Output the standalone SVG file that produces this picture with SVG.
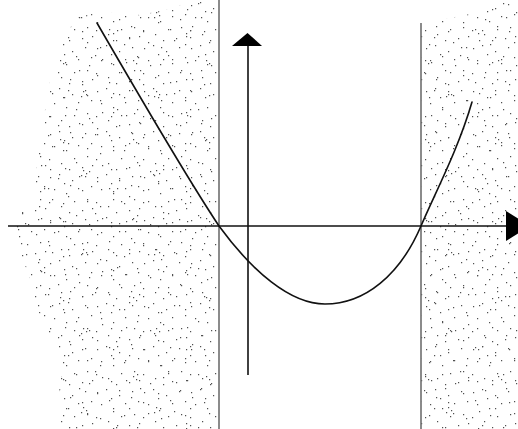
<svg xmlns="http://www.w3.org/2000/svg" width="518" height="429" viewBox="0 0 518 429">
  <style>
    .dots { fill: #505050; }
    .guide { stroke: #6e6e6e; stroke-width: 1.6; fill: none; }
    .axis { stroke: #111; stroke-width: 1.6; fill: none; }
    .curve { stroke: #111; stroke-width: 1.6; fill: none; stroke-linecap: round; }
    .head { fill: #000; }
  </style>
  <defs>
    <pattern id="pA" patternUnits="userSpaceOnUse" width="47" height="43">
      <path class="dots" d="M3 5h1.2v1.2h-1.2zM12 2h1.2v1.2h-1.2zM25 8h1.2v1.2h-1.2zM38 4h1.2v1.2h-1.2zM44 14h1.2v1.2h-1.2zM7 17h1.2v1.2h-1.2zM19 21h1.2v1.2h-1.2zM31 16h1.2v1.2h-1.2zM40 27h1.2v1.2h-1.2zM2 30h1.2v1.2h-1.2zM14 34h1.2v1.2h-1.2zM27 29h1.2v1.2h-1.2zM35 38h1.2v1.2h-1.2zM22 40h1.2v1.2h-1.2zM45 36h1.2v1.2h-1.2zM17 11h1.2v1.2h-1.2z"/>
    </pattern>
    <pattern id="pB" patternUnits="userSpaceOnUse" width="61" height="53">
      <path class="dots" d="M4 9h1.2v1.2h-1.2zM15 3h1.2v1.2h-1.2zM28 12h1.2v1.2h-1.2zM41 6h1.2v1.2h-1.2zM58 19h1.2v1.2h-1.2zM9 26h1.2v1.2h-1.2zM21 31h1.2v1.2h-1.2zM36 22h1.2v1.2h-1.2zM48 29h1.2v1.2h-1.2zM2 44h1.2v1.2h-1.2zM26 42h1.2v1.2h-1.2zM39 47h1.2v1.2h-1.2zM52 40h1.2v1.2h-1.2zM18 17h1.2v1.2h-1.2zM7 37h1.2v1.2h-1.2zM50 10h1.2v1.2h-1.2z"/>
    </pattern>
    <pattern id="pC" patternUnits="userSpaceOnUse" width="73" height="79">
      <path class="dots" d="M10 12h1.2v1.2h-1.2zM13 15h1.2v1.2h-1.2zM8 17h1.2v1.2h-1.2zM40 33h1.2v1.2h-1.2zM44 30h1.2v1.2h-1.2zM60 60h1.2v1.2h-1.2zM63 63h1.2v1.2h-1.2zM22 55h1.2v1.2h-1.2z"/>
    </pattern>
    <clipPath id="clipL">
      <polygon points="75,18 100,12 140,15 175,8 190,0 219,0 219,429 62,429 58,400 62,370 50,340 38,310 30,280 20,250 8,225 30,205 35,180 38,150 45,110 50,80 60,50"/>
    </clipPath>
    <clipPath id="clipR">
      <polygon points="421,25 450,18 480,12 500,3 518,0 518,429 421,429"/>
    </clipPath>
  </defs>

  <rect x="0" y="0" width="518" height="429" fill="#fff"/>

  <g id="stipple-left" clip-path="url(#clipL)">
    <rect x="0" y="0" width="219" height="429" fill="url(#pA)"/>
    <rect x="0" y="0" width="219" height="429" fill="url(#pB)"/>
    <rect x="0" y="0" width="219" height="429" fill="url(#pC)"/>
  </g>
  <g id="stipple-right" clip-path="url(#clipR)">
    <rect x="421" y="0" width="97" height="429" fill="url(#pA)"/>
    <rect x="421" y="0" width="97" height="429" fill="url(#pB)"/>
    <rect x="421" y="0" width="97" height="429" fill="url(#pC)"/>
  </g>

  <g id="guides">
    <line class="guide" x1="219" y1="0" x2="219" y2="429"/>
    <line class="guide" x1="421" y1="23" x2="421" y2="429"/>
  </g>

  <g id="axes">
    <line class="axis" x1="8" y1="226" x2="507" y2="226"/>
    <polygon class="head" points="506,211 506,241 530,226"/>
    <line class="axis" x1="248" y1="45" x2="248" y2="375"/>
    <polygon class="head" points="232,46 262,46 247.5,33"/>
  </g>

  <g id="curve">
    <path class="curve" d="M97,23 C130,80 185,175 219,226 C252,271 290,304 325,304 C365,304 400,275 421,226 C435,193 458,150 472,102"/>
  </g>
</svg>
